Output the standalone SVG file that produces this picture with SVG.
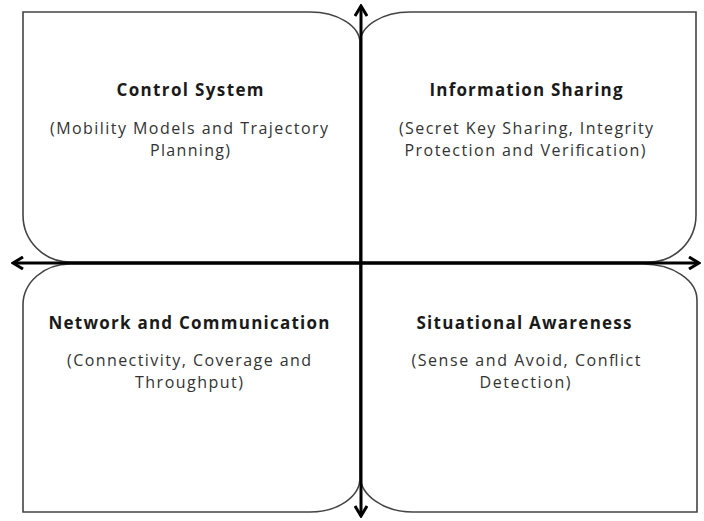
<svg xmlns="http://www.w3.org/2000/svg" width="704" height="521" viewBox="0 0 704 521">
<style>
.box{fill:#fff;stroke:#444;stroke-width:1.6}
.t{font-family:"Open Sans","Liberation Sans",sans-serif;font-weight:bold;font-size:17px;fill:#1a1a1a;text-anchor:middle}
.s{font-family:"Open Sans","Liberation Sans",sans-serif;font-size:16px;fill:#333;text-anchor:middle}
.ax{stroke:#000;stroke-width:3;fill:none}
</style>
<defs>
<marker id="ah" viewBox="0 0 14 14" refX="12" refY="7" markerWidth="14" markerHeight="14" markerUnits="userSpaceOnUse" orient="auto-start-reverse">
<path d="M2,1 L12,7 L2,13" fill="none" stroke="#000" stroke-width="3"/>
</marker>
</defs>
<rect width="704" height="521" fill="#fff"/>
<g id="control-system">
<path class="box" d="M23,12 H310 A50,31 0 0 1 360,43 V262 H70 A47,47 0 0 1 23,215 Z"/>
<text class="t" x="190" y="96" textLength="147" lengthAdjust="spacing">Control System</text>
<text class="s" x="189" y="134" textLength="278" lengthAdjust="spacing">(Mobility Models and Trajectory</text>
<text class="s" x="190" y="156" textLength="80" lengthAdjust="spacing">Planning)</text>
</g>
<g id="information-sharing">
<path class="box" d="M360,43 A50,31 0 0 1 410,12 H696 V215 A47,47 0 0 1 648,262 H360 Z"/>
<text class="t" x="526" y="96" textLength="193" lengthAdjust="spacing">Information Sharing</text>
<text class="s" x="526" y="134" textLength="254" lengthAdjust="spacing">(Secret Key Sharing, Integrity</text>
<text class="s" x="525" y="156" textLength="241" lengthAdjust="spacing">Protection and Verification)</text>
</g>
<g id="network-communication">
<path class="box" d="M70,264 A47,41 0 0 0 23,305 V512 H310 A50,34 0 0 0 360,478 V264 Z"/>
<text class="t" x="189" y="329" textLength="281" lengthAdjust="spacing">Network and Communication</text>
<text class="s" x="189" y="366" textLength="244" lengthAdjust="spacing">(Connectivity, Coverage and</text>
<text class="s" x="189" y="388" textLength="108" lengthAdjust="spacing">Throughput)</text>
</g>
<g id="situational-awareness">
<path class="box" d="M360,264 H643 A54,36 0 0 1 697,300 V512 H413 A53,37 0 0 1 360,475 Z"/>
<text class="t" x="524" y="329" textLength="215" lengthAdjust="spacing">Situational Awareness</text>
<text class="s" x="526" y="366" textLength="229" lengthAdjust="spacing">(Sense and Avoid, Conflict</text>
<text class="s" x="525" y="388" textLength="91" lengthAdjust="spacing">Detection)</text>
</g>
<g id="connectors">
<line class="ax" x1="361" y1="516" x2="361" y2="6" marker-start="url(#ah)" marker-end="url(#ah)"/>
<line class="ax" x1="13" y1="263" x2="699" y2="263" marker-start="url(#ah)" marker-end="url(#ah)"/>
</g>
</svg>
